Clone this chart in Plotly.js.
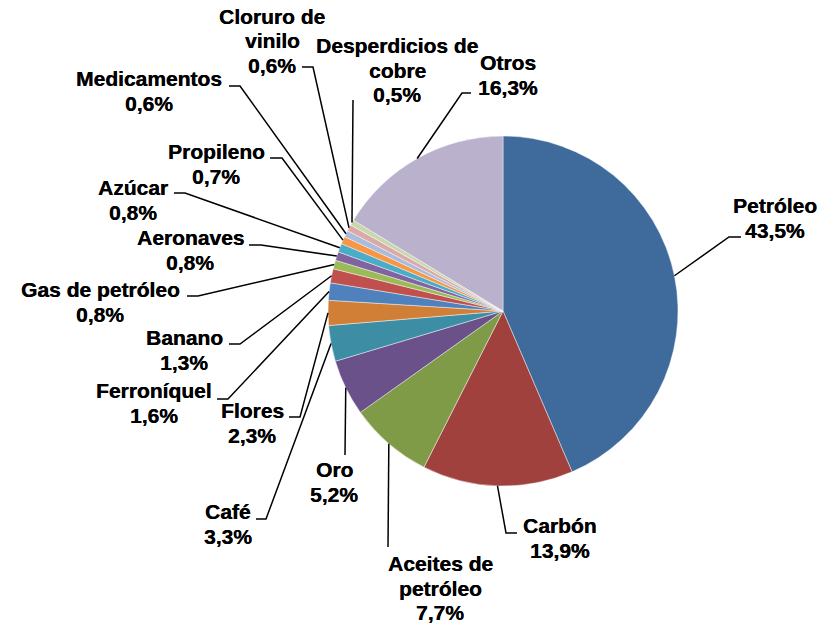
<!DOCTYPE html>
<html>
<head>
<meta charset="utf-8">
<script src="https://cdn.plot.ly/plotly-3.0.1.min.js"></script>
<style>html,body{margin:0;padding:0;background:#fff;}#chart{width:826px;height:624px;}</style>
</head>
<body>
<div id="chart"></div>
<script>
// ---- data ----
const categories = ["Petróleo","Carbón","Aceites de petróleo","Oro","Café","Flores","Ferroníquel","Banano","Gas de petróleo","Aeronaves","Azúcar","Propileno","Medicamentos","Cloruro de vinilo","Desperdicios de cobre","Otros"];
const shares = [43.5,13.9,7.7,5.2,3.3,2.3,1.6,1.3,0.8,0.8,0.8,0.7,0.6,0.6,0.5,16.3];
// label text split into lines
const labelLines = [["Petróleo"],["Carbón"],["Aceites de","petróleo"],["Oro"],["Café"],["Flores"],["Ferroníquel"],["Banano"],["Gas de petróleo"],["Aeronaves"],["Azúcar"],["Propileno"],["Medicamentos"],["Cloruro de","vinilo"],["Desperdicios de","cobre"],["Otros"]];
const sliceColors = ["#3E6A9C","#A0413E","#7F9B48","#6A5189","#3D8DA5","#D17F37","#4F81BD","#C0504D","#9BBB59","#8064A2","#4BACC6","#F79646","#AABBDC","#DBA9A8","#C8D8AE","#BAB1CC"];

// ---- layout (pixel positions of label blocks and leader lines) ----
const W = 826, H = 624;
const CX = 503, CY = 311, R = 175;
// [block centre x, block centre y, leader start x, leader start y, elbow x (or null)]
const labelPos = [
  [775,218,741,237,729],
  [560,538,517,533,506],
  [440,588,388,547,null],
  [334,482,345,455,null],
  [228,524,256,519,266],
  [252,423,289,417,300],
  [154,403,217,399,228],
  [184,350,229,344,240],
  [100,302,187,296,198],
  [190,250,249,245,261],
  [133,200,174,193,185],
  [216,164,270,158,282],
  [149,91,229,86,240],
  [272,41,302,67,313],
  [397,70,353,100,null],
  [508,75,471,93,462]
];
const LINE_H = 24.5;
const FONT = {family:"Liberation Sans, Arial, sans-serif", size:21, color:"#000", weight:"bold", shadow:"0.35px 0 0 #000"};

const px = x => x / W;
const py = y => 1 - y / H;

const total = shares.reduce((a,b)=>a+b,0);
const annotations = [];
const shapes = [];
let cum = 0;
shares.forEach((v,i) => {
  const mid = (cum + v/2) / total * 2 * Math.PI;
  cum += v;
  const ex = CX + R * Math.sin(mid), ey = CY - R * Math.cos(mid);
  const [bx, by, sx, sy, elx] = labelPos[i];
  const lines = labelLines[i].concat([v.toFixed(1).replace('.', ',') + '%']);
  const n = lines.length;
  lines.forEach((t,k) => {
    annotations.push({xref:'paper', yref:'paper', x:px(bx), y:py(by + (k-(n-1)/2)*LINE_H),
      text:t, showarrow:false, xanchor:'center', yanchor:'middle', font:FONT});
  });
  let path = `M ${px(sx)} ${py(sy)}`;
  if (elx !== null) path += ` L ${px(elx)} ${py(sy)}`;
  path += ` L ${px(ex)} ${py(ey)}`;
  shapes.push({type:'path', xref:'paper', yref:'paper', path:path, line:{color:'#000', width:1.5}});
});

const trace = {
  type:'pie', labels:categories, values:shares, sort:false, direction:'clockwise', rotation:0,
  textinfo:'none', hoverinfo:'label+percent',
  marker:{colors:sliceColors, line:{color:'rgba(255,255,255,0.55)', width:0.8}},
  domain:{x:[(CX-R)/W,(CX+R)/W], y:[1-(CY+R)/H, 1-(CY-R)/H]}
};

Plotly.newPlot('chart', [trace], {
  width:W, height:H, margin:{l:0,r:0,t:0,b:0}, showlegend:false,
  paper_bgcolor:'#fff', plot_bgcolor:'#fff',
  annotations:annotations, shapes:shapes
}, {staticPlot:true});
</script>
</body>
</html>
